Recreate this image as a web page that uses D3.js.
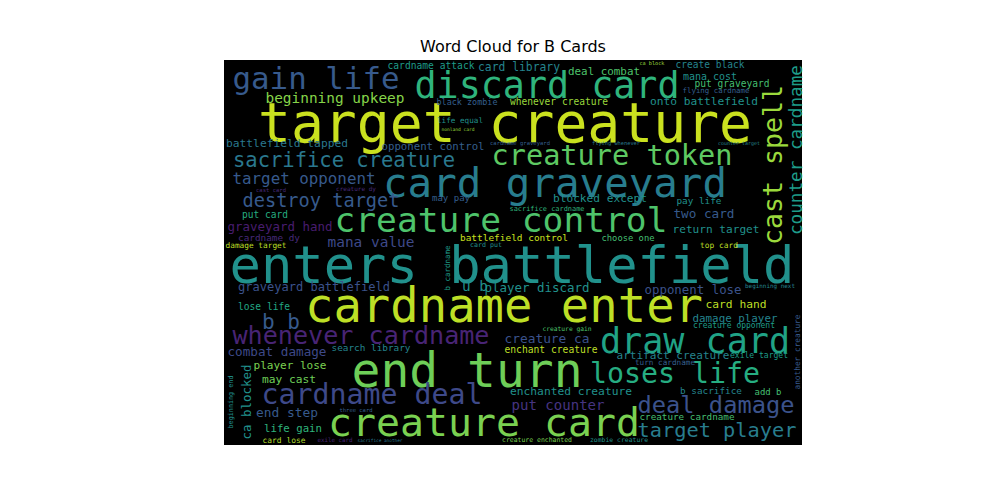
<!DOCTYPE html>
<html><head><meta charset="utf-8">
<script src="https://cdn.jsdelivr.net/npm/d3@7"></script>
<style>body{margin:0;background:#fff}</style>
</head><body><div id="chart"></div>
<script>
// palavras, centro (x,y), extensão em px, cor (viridis 0-1), rotação
const words = ["target creature","enters battlefield","end turn","card graveyard","cardname enter","creature card","discard card","gain life","creature control","loses life","draw card","cardname deal","whenever cardname","deal damage","target player","creature token","cast spell","counter cardname","sacrifice creature","target opponent","destroy target","beginning upkeep","battlefield tapped","opponent control","graveyard hand","mana value","put card","cardname dy","damage target","graveyard battlefield","lose life","b b","combat damage","search library","player lose","may cast","end step","life gain","card lose","ca blocked","beginning end","cardname attack","card library","ca block","create black","deal combat","mana cost","put graveyard","flying cardname","whenever creature","onto battlefield","black zombie","life equal","nonland card","blocked except","sacrifice cardname","pay life","may pay","two card","return target","battlefield control","choose one","card put","top card","player discard","opponent lose","beginning next","card hand","damage player","creature gain","creature opponent","creature ca","enchant creature","artifact creature","exile target","turn cardname","another creature","enchanted creature","b sacrifice","add b","put counter","creature cardname","creature enchanted","zombie creature","u b","b cardname","three card","exile card","sacrifice another","cardname graveyard","flying whenever","counter target","creature dy","cast card"];
const cx = [505,512,467,555,504,484,547,316,501,675,695,372,361,716,717,612,772,796,344,304,321,335,287,433,280,371,265,269,256,314,264,281,277,371,290,289,287,293,284,246,231,431,519,652,710,604,710,732,716,559,704,467,460,458,600,547,699,451,704,716,514,628,486,719,537,693,770,736,735,567,734,547,551,673,759,665,797,571,711,768,558,687,537,619,475,447,356,335,380,520,616,739,356,271];
const cy = [123,265,370,183,305,422,85,78,220,373,340,394,335,405,430,155,165,150,160,178,200,98,143,146,226,242,214,237,245,287,306,322,351,347,365,379,412,428,440,402,402,65,67,63,64,71,76,83,90,101,101,102,120,129,198,209,200,198,213,229,237,238,245,245,287,289,286,304,318,328,325,338,349,355,355,362,352,391,390,392,405,416,440,440,286,268,410,440,440,143,143,143,188,190];
const span = [494,565,231,344,398,312,265,167,333,170,190,221,257,157,159,241,160,170,222,143,157,139,122,103,105,87,46,62,61,152,52,38,99,79,73,54,62,58,43,75,53,87,82,25,69,72,54,75,67,98,108,61,46,33,94,75,45,38,61,87,108,53,32,38,105,97,50,61,85,49,82,85,93,113,58,60,75,122,62,27,93,95,70,58,26,45,33,35,45,60,48,42,40,30];
const cor = [0.92,0.5,0.78,0.42,0.9,0.8,0.65,0.28,0.72,0.62,0.58,0.22,0.1,0.25,0.42,0.75,0.85,0.55,0.4,0.28,0.28,0.82,0.4,0.3,0.08,0.22,0.62,0.12,0.9,0.25,0.6,0.28,0.22,0.45,0.8,0.78,0.28,0.65,0.88,0.5,0.5,0.55,0.45,0.85,0.45,0.72,0.5,0.7,0.3,0.85,0.5,0.3,0.5,0.85,0.5,0.65,0.5,0.3,0.28,0.5,0.92,0.7,0.5,0.9,0.5,0.25,0.45,0.9,0.45,0.72,0.55,0.25,0.9,0.45,0.55,0.3,0.28,0.5,0.45,0.7,0.15,0.7,0.8,0.5,0.5,0.55,0.3,0.1,0.4,0.3,0.4,0.45,0.12,0.12];
const rot = [0,0,0,0,0,0,0,0,0,0,0,0,0,0,0,0,-90,-90,0,0,0,0,0,0,0,0,0,0,0,0,0,0,0,0,0,0,0,0,0,-90,-90,0,0,0,0,0,0,0,0,0,0,0,0,0,0,0,0,0,0,0,0,0,0,0,0,0,0,0,0,0,0,0,0,0,0,0,-90,0,0,0,0,0,0,0,0,-90,0,0,0,0,0,0,0,0];

const dados = words.map((w, i) => ({ w, x: cx[i], y: cy[i], span: span[i], c: cor[i], r: rot[i] }));

const svg = d3.select("#chart").append("svg").attr("width", 1000).attr("height", 500);

svg.append("text").attr("x", 513).attr("y", 52).attr("text-anchor", "middle")
  .style("font-family", "DejaVu Sans").style("font-size", "16px").text("Word Cloud for B Cards");

const x = d3.scaleLinear().domain([224, 802]).range([224, 802]);
const y = d3.scaleLinear().domain([60, 445]).range([60, 445]);

svg.append("rect").attr("x", x(224)).attr("y", y(60))
  .attr("width", x(802) - x(224)).attr("height", y(445) - y(60)).attr("fill", "#000");

const g = svg.append("g");
g.selectAll("text").data(dados).join("text")
  .attr("transform", d => `translate(${x(d.x)},${y(d.y)}) rotate(${d.r})`)
  .attr("text-anchor", "middle")
  .attr("dominant-baseline", "central")
  .attr("textLength", d => d.span)
  .attr("lengthAdjust", "spacingAndGlyphs")
  .style("font-family", "DejaVu Sans Mono")
  .style("font-size", d => (d.span / (0.602 * d.w.length)).toFixed(1) + "px")
  .attr("fill", d => d3.interpolateViridis(d.c))
  .text(d => d.w);
</script></body></html>
